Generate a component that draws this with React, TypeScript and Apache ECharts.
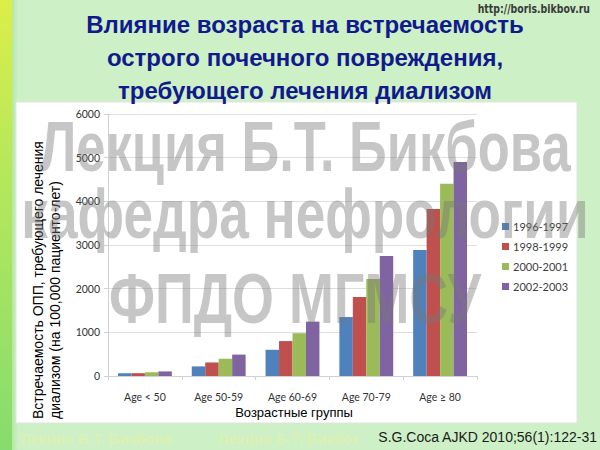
import React, { useEffect, useRef } from "react";
import * as echarts from "echarts";

const categories = ["Age < 50", "Age 50-59", "Age 60-69", "Age 70-79", "Age ≥ 80"];
const seriesNames = ["1996-1997", "1998-1999", "2000-2001", "2002-2003"];
const v1996 = [65, 220, 600, 1350, 2885];
const v1998 = [65, 310, 800, 1810, 3825];
const v2000 = [85, 395, 980, 2220, 4400];
const v2002 = [105, 490, 1245, 2750, 4900];
const seriesValues = [v1996, v1998, v2000, v2002];
const colors = ["#4F81BD", "#C0504D", "#9BBB59", "#8064A2"];
const titleLines = [
  "Влияние возраста на встречаемость",
  "острого почечного повреждения,",
  "требующего лечения диализом",
];
const yTitleLines = ["Встречаемость ОПП, требующего лечения", "диализом (на 100,000 пациенто-лет)"];
const xTitle = "Возрастные группы";
const watermarkLines = ["Лекция Б.Т. Бикбова", "кафедра нефрологии", "ФПДО МГМСУ"];
const citation = "S.G.Coca AJKD 2010;56(1):122-31";
const url = "http://boris.bikbov.ru";
const footerMark = "Лекция Б.Т. Бикбова";

export default function App() {
  const ref = useRef<HTMLDivElement>(null);
  useEffect(() => {
    if (!ref.current) return;
    const chart = echarts.init(ref.current, null, { renderer: "svg" });
    const bg = "#cdf0c6";
    const graphic: any[] = [
      { type: "rect", z: -10, shape: { x: 0, y: 0, width: 600, height: 450 }, style: { fill: bg }, silent: true },
      {
        type: "rect", z: -9, shape: { x: 0, y: 0, width: 12, height: 450 },
        style: { fill: new echarts.graphic.LinearGradient(0, 0, 0, 1, [
          { offset: 0, color: "#dcee48" }, { offset: 0.35, color: "#b8e85a" }, { offset: 1, color: "#86dc6e" },
        ]) }, silent: true,
      },
      {
        type: "rect", z: -9, shape: { x: 12, y: 0, width: 6, height: 450 },
        style: { fill: new echarts.graphic.LinearGradient(0, 0, 1, 0, [
          { offset: 0, color: "#b4e8a0" }, { offset: 1, color: bg },
        ]) }, silent: true,
      },
      { type: "rect", z: -8, shape: { x: 16, y: 102, width: 561, height: 321 }, style: { fill: "#ffffff", stroke: "#e2e2e2", lineWidth: 1 }, silent: true },
      ...titleLines.map((t, i) => ({
        type: "text", z: 20, x: 305, y: 24 + i * 33,
        style: { text: t, fill: "#111a8c", font: "bold 24px 'Liberation Sans', Arial, sans-serif", textAlign: "center", textVerticalAlign: "middle" },
      })),
      {
        type: "text", z: 21, x: 590, y: 9,
        style: { text: url, fill: "#3a3a3a", font: "bold 12px 'DejaVu Sans', sans-serif", textAlign: "right", textVerticalAlign: "middle" },
        scaleX: 0.78,
      },
      ...yTitleLines.map((t, i) => ({
        type: "text", z: 20, x: 38 + i * 17, y: 419, rotation: Math.PI / 2,
        style: { text: t, fill: "#000000", font: "14px 'Liberation Sans', Arial, sans-serif", textAlign: "left", textVerticalAlign: "middle" },
      })),
      {
        type: "text", z: 20, x: 294, y: 412,
        style: { text: xTitle, fill: "#000000", font: "13px 'Liberation Sans', Arial, sans-serif", textAlign: "center", textVerticalAlign: "middle" },
      },
      ...watermarkLines.map((t, i) => ({
        type: "text", z: 100, x: [305, 305, 295][i], y: [182, 249, 333][i], scaleX: [0.75, 0.76, 0.77][i],
        style: { text: t, fill: "rgba(120,120,120,0.42)", font: "bold 70px 'Liberation Sans', Arial, sans-serif", textAlign: "center", textVerticalAlign: "bottom" },
        silent: true,
      })),
      {
        type: "text", z: 5, x: 20, y: 438,
        style: { text: footerMark, fill: "#dcf0b4", font: "bold 15px 'Liberation Sans', Arial, sans-serif", textAlign: "left", textVerticalAlign: "middle" },
      },
      {
        type: "text", z: 5, x: 218, y: 438,
        style: { text: footerMark, fill: "#dcf0b4", font: "bold 15px 'Liberation Sans', Arial, sans-serif", textAlign: "left", textVerticalAlign: "middle" },
      },
      { type: "rect", z: 6, shape: { x: 359, y: 426, width: 241, height: 24 }, style: { fill: bg } },
      {
        type: "text", z: 7, x: 597, y: 437,
        style: { text: citation, fill: "#1a1a1a", font: "14px 'Liberation Sans', Arial, sans-serif", textAlign: "right", textVerticalAlign: "middle" },
      },
    ];
    chart.setOption({
      animation: false,
      graphic,
      grid: { left: 108, right: 123, top: 114, bottom: 74, containLabel: false },
      legend: {
        orient: "vertical", left: 497, top: 216, itemWidth: 7, itemHeight: 7, itemGap: 9,
        icon: "rect", data: seriesNames,
        textStyle: { fontFamily: "Lato, 'Open Sans', sans-serif", fontSize: 11, color: "#404040", padding: [0, 0, 0, -1] },
      },
      xAxis: {
        type: "category", data: categories,
        axisLine: { lineStyle: { color: "#d0d0d0" } },
        axisTick: { show: true, length: 4, lineStyle: { color: "#d0d0d0" } },
        axisLabel: { fontFamily: "Lato, 'Open Sans', sans-serif", fontSize: 10.5, color: "#333333", margin: 15 },
      },
      yAxis: {
        type: "value", min: 0, max: 6000, interval: 1000,
        axisLine: { show: true, lineStyle: { color: "#d0d0d0" } },
        axisTick: { show: true, length: 4, lineStyle: { color: "#d0d0d0" } },
        splitLine: { lineStyle: { color: "#dedede" } },
        axisLabel: { fontFamily: "Lato, 'Open Sans', sans-serif", fontSize: 10.5, color: "#333333", margin: 8, formatter: (v: number) => String(v) },
      },
      series: seriesNames.map((n, i) => ({
        name: n, type: "bar", data: seriesValues[i], barGap: "0%", barCategoryGap: "27%",
        itemStyle: { color: colors[i] },
      })),
    });
    return () => chart.dispose();
  }, []);
  return <div ref={ref} style={{ position: "absolute", left: 0, top: 0, width: 600, height: 450 }} />;
}
